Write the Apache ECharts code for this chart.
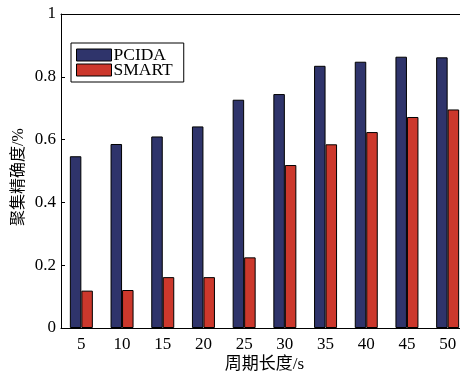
<!DOCTYPE html>
<html>
<head>
<meta charset="utf-8">
<script src="https://cdn.jsdelivr.net/npm/echarts@6/dist/echarts.min.js"></script>
<style>
  html, body { margin: 0; padding: 0; background: #fff; }
  #chart { width: 460px; height: 373px; }
</style>
</head>
<body>
<div id="chart"></div>
<script>
// 周期长度 (s)
var categories = ["5", "10", "15", "20", "25", "30", "35", "40", "45", "50"];
var pcida = [0.547, 0.586, 0.610, 0.642, 0.727, 0.745, 0.835, 0.848, 0.864, 0.862];
var smart = [0.119, 0.121, 0.162, 0.162, 0.225, 0.519, 0.585, 0.624, 0.672, 0.696];
var yTicks = [0, 0.2, 0.4, 0.6, 0.8, 1];

var serif = "Liberation Serif";
var cjk = "Liberation Serif, Noto Sans CJK SC";

var myChart = echarts.init(document.getElementById("chart"));
myChart.setOption({
  animation: false,
  // 右边框被裁掉，所以宽度超出画布
  grid: { left: 61, top: 14, width: 407, height: 314, outerBoundsMode: "none", containLabel: false },
  legend: {
    left: 71, top: 43,
    orient: "vertical",
    icon: "rect",
    itemWidth: 35, itemHeight: 12, itemGap: -3,
    padding: [3, 11, 3, 5],
    borderColor: "#000", borderWidth: 1,
    borderRadius: 0,
    backgroundColor: "#fff",
    itemStyle: { borderColor: "#000", borderWidth: 1 },
    textStyle: { fontFamily: serif, fontSize: 17.5, color: "#000", padding: [0, 0, 0, -3] },
    data: ["PCIDA", "SMART"]
  },
  xAxis: [{
    type: "category",
    data: categories,
    name: "周期长度/s",
    nameLocation: "middle",
    nameGap: 28,
    nameMoveOverlap: false,
    nameTextStyle: { fontFamily: cjk, fontSize: 17, color: "#000" },
    axisLine: { lineStyle: { color: "#000", width: 1 } },
    axisTick: { alignWithLabel: true, inside: true, length: 4, lineStyle: { color: "#000" } },
    axisLabel: { fontFamily: serif, fontSize: 17, color: "#000", margin: 8 }
  }, {
    type: "category",
    position: "top",
    data: categories,
    axisLine: { lineStyle: { color: "#000", width: 1 } },
    axisTick: { alignWithLabel: true, inside: true, length: 4, lineStyle: { color: "#000" } },
    axisLabel: { show: false }
  }],
  yAxis: {
    type: "value",
    min: 0, max: 1, interval: 0.2,
    name: "聚集精确度/%",
    nameLocation: "middle",
    nameGap: 34,
    nameMoveOverlap: false,
    nameTextStyle: { fontFamily: cjk, fontSize: 16, color: "#000", padding: [0, 12, 0, 0] },
    axisLine: { show: true, lineStyle: { color: "#000", width: 1 } },
    axisTick: { show: true, inside: true, length: 4, lineStyle: { color: "#000" } },
    splitLine: { show: false },
    axisLabel: {
      fontFamily: serif, fontSize: 17, color: "#000", margin: 5,
      formatter: function (v) {
        var t = yTicks.find(function (k) { return Math.abs(k - v) < 1e-9; });
        return t === undefined ? "" : String(t);
      }
    }
  },
  series: [{
    name: "PCIDA",
    type: "bar",
    data: pcida,
    barWidth: 11.5,
    barGap: "0%",
    itemStyle: { color: "#2f346b", borderColor: "#000", borderWidth: 1 }
  }, {
    name: "SMART",
    type: "bar",
    data: smart,
    barWidth: 11.5,
    barGap: "0%",
    itemStyle: { color: "#cc382c", borderColor: "#000", borderWidth: 1 }
  }]
});
</script>
</body>
</html>
